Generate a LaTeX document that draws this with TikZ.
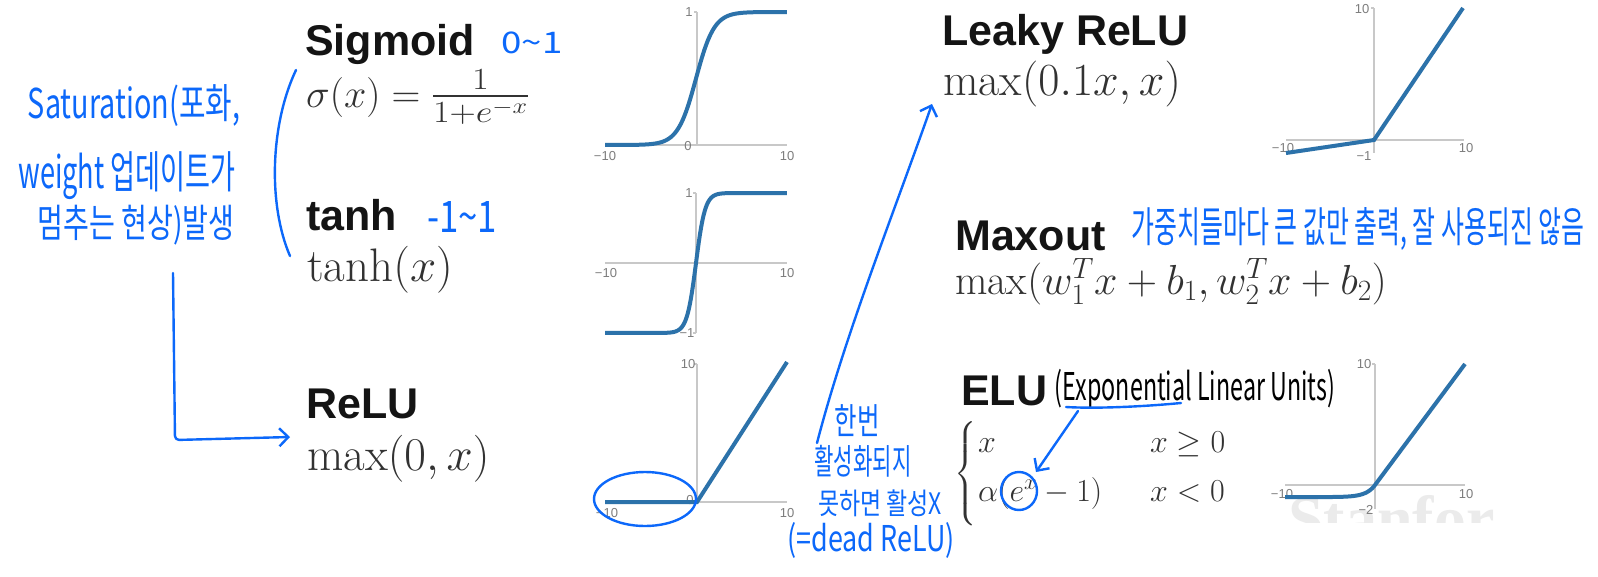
\RequirePackage{fix-cm}
\documentclass[tikz,border=0pt]{standalone}
\usepackage{amsmath}
\usepackage{graphicx}
\usepackage{fontspec}
\newfontfamily\titlefont{Liberation Sans}
\newfontfamily\tickfont{Liberation Sans}
\newfontfamily\kfont{Noto Sans CJK KR}
\newfontfamily\stanfont{Liberation Serif}
\usetikzlibrary{arrows.meta}
\definecolor{pen}{RGB}{12,104,250}
\definecolor{curvecol}{RGB}{44,114,170}
\definecolor{axisgray}{RGB}{200,200,200}
\definecolor{tickgray}{RGB}{125,125,125}
\definecolor{mathgray}{RGB}{50,50,50}
\newcommand{\handw}[3]{\resizebox*{#1}{#2}{\kfont #3}}
\tikzset{
  title/.style={anchor=base west, inner sep=0pt, font=\titlefont\bfseries\fontsize{43}{48}\selectfont, text=black!92},
  formula/.style={anchor=base west, inner sep=0pt, text=mathgray},
  note/.style={inner sep=0pt, text=pen},
  penline/.style={draw=pen, line width=2.4pt, line cap=round, line join=round},
  penarrow/.style={penline, -{Straight Barb[length=9pt,width=18pt]}},
  curveline/.style={draw=curvecol, line width=4pt},
  axisline/.style={draw=axisgray, line width=1.5pt},
  ticklabel/.style={inner sep=0pt, font=\tickfont\fontsize{13}{13}\selectfont, text=tickgray},
}
\begin{document}
\begin{tikzpicture}[x=1pt,y=-1pt]
\useasboundingbox (0,0) rectangle (1598,576);
\fill[white] (0,0) rectangle (1598,576);

% watermark
\begin{scope}
\clip (1280,488) rectangle (1512,522);
\node[inner sep=0pt, anchor=base west, font=\stanfont\bfseries\fontsize{64}{64}\selectfont, text=black!8] (stan) at (1288,540) {Stanfor};
\end{scope}

% ---------- axes ----------
\draw[axisline] (605,145) -- (787,145);
\draw[axisline] (697,12) -- (697,145);
\draw[axisline] (694,12) -- (697,12);
\draw[axisline] (605,263) -- (787,263);
\draw[axisline] (696,193) -- (696,333);
\draw[axisline] (693,193) -- (696,193);
\draw[axisline] (693,333) -- (696,333);
\draw[axisline] (605,502) -- (787,502);
\draw[axisline] (697,364) -- (697,502);
\draw[axisline] (694,364) -- (697,364);
\draw[axisline] (1286,140) -- (1464,140);
\draw[axisline] (1374,8) -- (1374,153);
\draw[axisline] (1371,8) -- (1374,8);
\draw[axisline] (1285,485) -- (1465,485);
\draw[axisline] (1375,364) -- (1375,509);
\draw[axisline] (1372,364) -- (1375,364);

% ---------- tick labels ----------
\node[ticklabel] (s1) at (689,12) {1};
\node[ticklabel] (s0) at (688,146) {0};
\node[ticklabel] (sm10) at (605,156) {−10};
\node[ticklabel] (s10) at (787,156) {10};
\node[ticklabel] (t1) at (689,193) {1};
\node[ticklabel] (tm1) at (687,333) {−1};
\node[ticklabel] (tm10) at (606,273) {−10};
\node[ticklabel] (t10) at (787,273) {10};
\node[ticklabel] (r10) at (688,364) {10};
\node[ticklabel] (r0) at (690,500) {0};
\node[ticklabel] (rm10) at (607,513) {−10};
\node[ticklabel] (r10b) at (787,513) {10};
\node[ticklabel] (l10) at (1362,9) {10};
\node[ticklabel] (lm10) at (1283,148) {−10};
\node[ticklabel] (lm1) at (1364,156) {−1};
\node[ticklabel] (l10b) at (1466,148) {10};
\node[ticklabel] (e10) at (1364,364) {10};
\node[ticklabel] (em10) at (1282,494) {−10};
\node[ticklabel] (e10b) at (1466,494) {10};
\node[ticklabel] (em2) at (1366,510) {−2};

% ---------- curves ----------
\draw[curveline] plot[domain=-10:10, samples=140] ({696+9.1*\x},{145-133/(1+exp(-max(\x,-8)))});
\draw[curveline] plot[domain=-10:10, samples=160] ({696+9.1*\x},{263-70*(1-2/(1+exp(2*max(min(\x,4),-4))))});
\draw[curveline] (605,502) -- (697,502) -- (787,362);
\draw[curveline] (1286,153) -- (1374,140) -- (1463,8);
\draw[curveline] plot[domain=-10:0, samples=80] ({1375+9*\x},{485-12.1*(exp(\x)-1)}) -- (1465,364);

% ---------- titles & formulas ----------
\node[title] (sigt) at (305,55) {Sigmoid};
\node[formula, font=\fontsize{40}{44}\selectfont] (sigf) at (306,107) {$\sigma(x)=\scalebox{1.3}[1.1]{$\frac{1}{1+e^{-x}}$}$};
\node[title] (tanht) at (306,230) {tanh};
\node[formula, font=\fontsize{47}{52}\selectfont] (tanhf) at (307,281) {$\tanh(x)$};
\node[title] (relut) at (306,418) {ReLU};
\node[formula, font=\fontsize{47}{52}\selectfont] (reluf) at (307,470) {$\max(0,x)$};

\node[title] (leakyt) at (942,45) {Leaky ReLU};
\node[formula, font=\fontsize{46}{50}\selectfont] (leakyf) at (943,95) {$\max(0.1x,x)$};
\node[title] (maxt) at (955,250) {Maxout};
\node[formula, font=\fontsize{42}{46}\selectfont] (maxf) at (955,294) {$\max(w_1^Tx+b_1,w_2^Tx+b_2)$};
\node[title] (elut) at (961,405) {ELU};
\node[formula, font=\fontsize{32}{36}\selectfont, anchor=west] (elub) at (954,474) {$\left\{\vrule height 43pt depth 43pt width 0pt\right.$};
\node[formula, font=\fontsize{32}{36}\selectfont] (e1) at (978,452) {$x$};
\node[formula, font=\fontsize{32}{36}\selectfont] (e2) at (1150,452) {$x\geq 0$};
\node[formula, font=\fontsize{32}{36}\selectfont] (e3) at (978,501) {$\alpha(e^x-1)$};
\node[formula, font=\fontsize{32}{36}\selectfont] (e4) at (1150,501) {$x<0$};

% ---------- handwritten notes ----------
\node[note] (sat1) at (134,106) {\handw{212pt}{42pt}{Saturation(포화,}};
\node[note] (sat2) at (127,176) {\handw{217pt}{48pt}{weight 업데이트가}};
\node[note] (sat3) at (136,225) {\handw{197pt}{40pt}{멈추는 현상)발생}};
\node[note] (sigr) at (532,43) {\handw{61pt}{22pt}{0\textasciitilde 1}};
\node[note] (tanhr) at (462,217) {\handw{70pt}{31pt}{-1\textasciitilde 1}};
\node[note] (maxn) at (1358,229) {\handw{453pt}{43pt}{가중치들마다 큰 값만 출력, 잘 사용되진 않음}};
\node[note] (d1) at (857,421) {\handw{45pt}{32pt}{한번}};
\node[note] (d2) at (863,461) {\handw{97pt}{32pt}{활성화되지}};
\node[note] (d3) at (880,503) {\handw{124pt}{27pt}{못하면 활성X}};
\node[note] (d4) at (871,540) {\handw{167pt}{36pt}{(=dead ReLU)}};
\node[inner sep=0pt, text=black] (expo) at (1195,389) {\handw{280pt}{40pt}{(Exponential Linear Units)}};

% ---------- pen strokes ----------
\draw[penline] (296,70) .. controls (270,125) and (268,205) .. (290,256);
\coordinate (satstart) at (173,273);
\coordinate (satcorner) at (175,440);
\coordinate (relutip) at (290,437);
\draw[penarrow, rounded corners=4pt] (satstart) -- (satcorner) -- (relutip);

\draw[penline] (645,499) ellipse [x radius=51pt, y radius=27pt];

\coordinate (deadstart) at (817,443);
\coordinate (leakytip) at (932,104);
\draw[penarrow] (deadstart) .. controls (845,335) and (893,215) .. (leakytip);

\coordinate (ul1) at (1066,407);
\coordinate (ul2) at (1181,403);
\draw[penline] (ul1) .. controls (1100,409) and (1150,406) .. (ul2);
\draw[penline] (1019,491) ellipse [x radius=18pt, y radius=19pt];
\coordinate (expstart) at (1078,411);
\coordinate (exptip) at (1036,472);
\draw[penarrow] (expstart) -- (exptip);
\end{tikzpicture}
\end{document}
